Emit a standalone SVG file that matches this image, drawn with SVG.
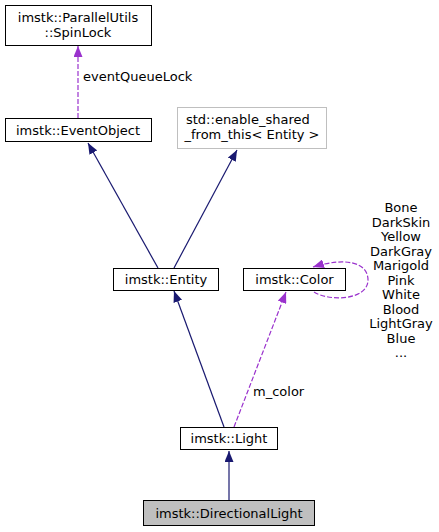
<svg xmlns="http://www.w3.org/2000/svg" width="439" height="532" viewBox="0 0 439 532">
<style>
text{font-family:"DejaVu Sans",sans-serif;font-size:13px;fill:#000}
.c{text-anchor:middle}
.box{fill:#fff;stroke:#000;stroke-width:1}
.gbox{fill:#fff;stroke:#bfbfbf;stroke-width:1}
.cur{fill:#bfbfbf;stroke:#000;stroke-width:1}
.inh{fill:none;stroke:#191970;stroke-width:1.2}
.use{fill:none;stroke:#9a32cd;stroke-width:1.2;stroke-dasharray:5,2}
</style>
<defs>
<marker id="an" markerUnits="userSpaceOnUse" markerWidth="11" markerHeight="9" refX="11" refY="4.5" orient="auto"><path d="M0,0 L11,4.5 L0,9 z" fill="#191970"/></marker>
<marker id="ap" markerUnits="userSpaceOnUse" markerWidth="11" markerHeight="9" refX="11" refY="4.5" orient="auto"><path d="M0,0 L11,4.5 L0,9 z" fill="#9a32cd"/></marker>
</defs>
<g id="edges">
<path class="use" d="M78,118 L78,46" marker-end="url(#ap)"/>
<text x="83" y="81">eventQueueLock</text>
<path class="inh" d="M158,268 L88,143" marker-end="url(#an)"/>
<path class="inh" d="M174,268 L237,150" marker-end="url(#an)"/>
<path class="inh" d="M224,427 L174,291" marker-end="url(#an)"/>
<path class="use" d="M234,427 L286,292" marker-end="url(#ap)"/>
<text x="253" y="396">m_color</text>
<path class="inh" d="M229,500 L229,451" marker-end="url(#an)"/>
<path class="use" d="M314,292 C330,302 368,300 368,280 C368,262 345,257 313,267" marker-end="url(#ap)"/>
<text class="c" x="401" y="212">Bone</text>
<text class="c" x="401" y="226.5">DarkSkin</text>
<text class="c" x="401" y="241">Yellow</text>
<text class="c" x="401" y="255.5">DarkGray</text>
<text class="c" x="401" y="270">Marigold</text>
<text class="c" x="401" y="284.5">Pink</text>
<text class="c" x="401" y="299">White</text>
<text class="c" x="401" y="313.5">Blood</text>
<text class="c" x="401" y="328">LightGray</text>
<text class="c" x="401" y="342.5">Blue</text>
<text class="c" x="401" y="357">...</text>
</g>
<g id="spinlock"><rect class="box" x="5.5" y="5.5" width="146" height="40"/><text class="c" x="78" y="22">imstk::ParallelUtils</text><text class="c" x="78" y="37">::SpinLock</text></g>
<g id="eventobject"><rect class="box" x="5.5" y="118.5" width="146" height="23"/><text class="c" x="78" y="134.5">imstk::EventObject</text></g>
<g id="enableshared"><rect class="gbox" x="177.5" y="107.5" width="149" height="41"/><text x="186" y="124">std::enable_shared</text><text class="c" x="252" y="139">_from_this&lt; Entity &gt;</text></g>
<g id="entity"><rect class="box" x="113.5" y="268.5" width="105" height="22"/><text class="c" x="166" y="284">imstk::Entity</text></g>
<g id="color"><rect class="box" x="243.5" y="268.5" width="102" height="22"/><text class="c" x="294.5" y="284">imstk::Color</text></g>
<g id="light"><rect class="box" x="180.5" y="427.5" width="97" height="22"/><text class="c" x="229" y="443">imstk::Light</text></g>
<g id="directionallight"><rect class="cur" x="143.5" y="500.5" width="171" height="25"/><text class="c" x="229" y="517.5">imstk::DirectionalLight</text></g>
</svg>
